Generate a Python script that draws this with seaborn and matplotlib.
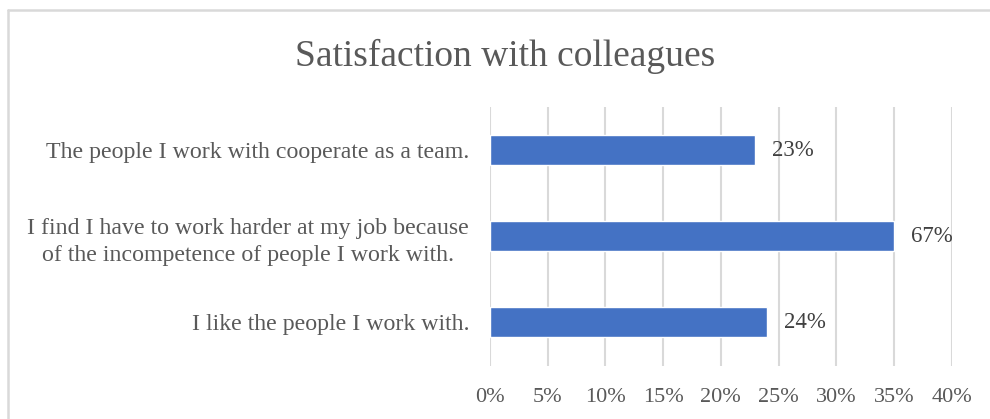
import matplotlib
matplotlib.use("Agg")
import matplotlib.pyplot as plt
import seaborn as sns
import pandas as pd
from matplotlib.lines import Line2D

categories = [
    "The people I work with cooperate as a team.",
    "I find I have to work harder at my job because\nof the incompetence of people I work with.",
    "I like the people I work with.",
]
values = [23, 35, 24]
value_labels = ["23%", "67%", "24%"]
x_ticks = [0, 5, 10, 15, 20, 25, 30, 35, 40]
x_tick_labels = ["0%", "5%", "10%", "15%", "20%", "25%", "30%", "35%", "40%"]
title = "Satisfaction with colleagues"

df = pd.DataFrame({"category": categories, "value": values})

sns.set_theme(style="white")
plt.rcParams["font.family"] = ["Liberation Serif", "DejaVu Serif"]

W, H = 990, 419
fig = plt.figure(figsize=(W / 100, H / 100), dpi=100)
ax = fig.add_axes([490 / W, 1 - 365.5 / H, (951.7 - 490) / W, (365.5 - 107) / H])

sns.barplot(data=df, x="value", y="category", orient="h", color="#4472C4",
            saturation=1, width=0.35, ax=ax, zorder=3)

ax.set_xlim(0, 40)
ax.set_xticks(x_ticks)
ax.set_xticklabels(x_tick_labels)
ax.set_yticks(range(len(categories)), labels=categories,
              linespacing=1.4, multialignment="center")
ax.set_ylim(len(categories) - 0.5, -0.5)
ax.grid(axis="x", color="#D9D9D9", linewidth=1.5, zorder=0)
ax.grid(axis="y", visible=False)
for s in ax.spines.values():
    s.set_visible(False)
ax.set_xlabel("")
ax.set_ylabel("")
ax.tick_params(axis="x", length=0, pad=16, labelsize=16, labelcolor="#595959")
ax.tick_params(axis="y", length=0, pad=15, labelsize=17.2, labelcolor="#595959")

for i, (v, t) in enumerate(zip(values, value_labels)):
    ax.annotate(t, xy=(v, i), xytext=(12, 0), textcoords="offset points",
                ha="left", va="center", fontsize=16.5, color="#404040")

fig.text(505.5 / W, 1 - 56 / H, title, ha="center", va="center", fontsize=27, color="#595959")

# outer frame
fig.add_artist(Line2D([8 / W, 8 / W], [0, 1 - 10 / H], transform=fig.transFigure,
                      color="#D9D9D9", linewidth=1.8))
fig.add_artist(Line2D([8 / W, 1], [1 - 10 / H, 1 - 10 / H], transform=fig.transFigure,
                      color="#D9D9D9", linewidth=1.8))

fig.savefig("out.png", dpi=100, facecolor="white")
